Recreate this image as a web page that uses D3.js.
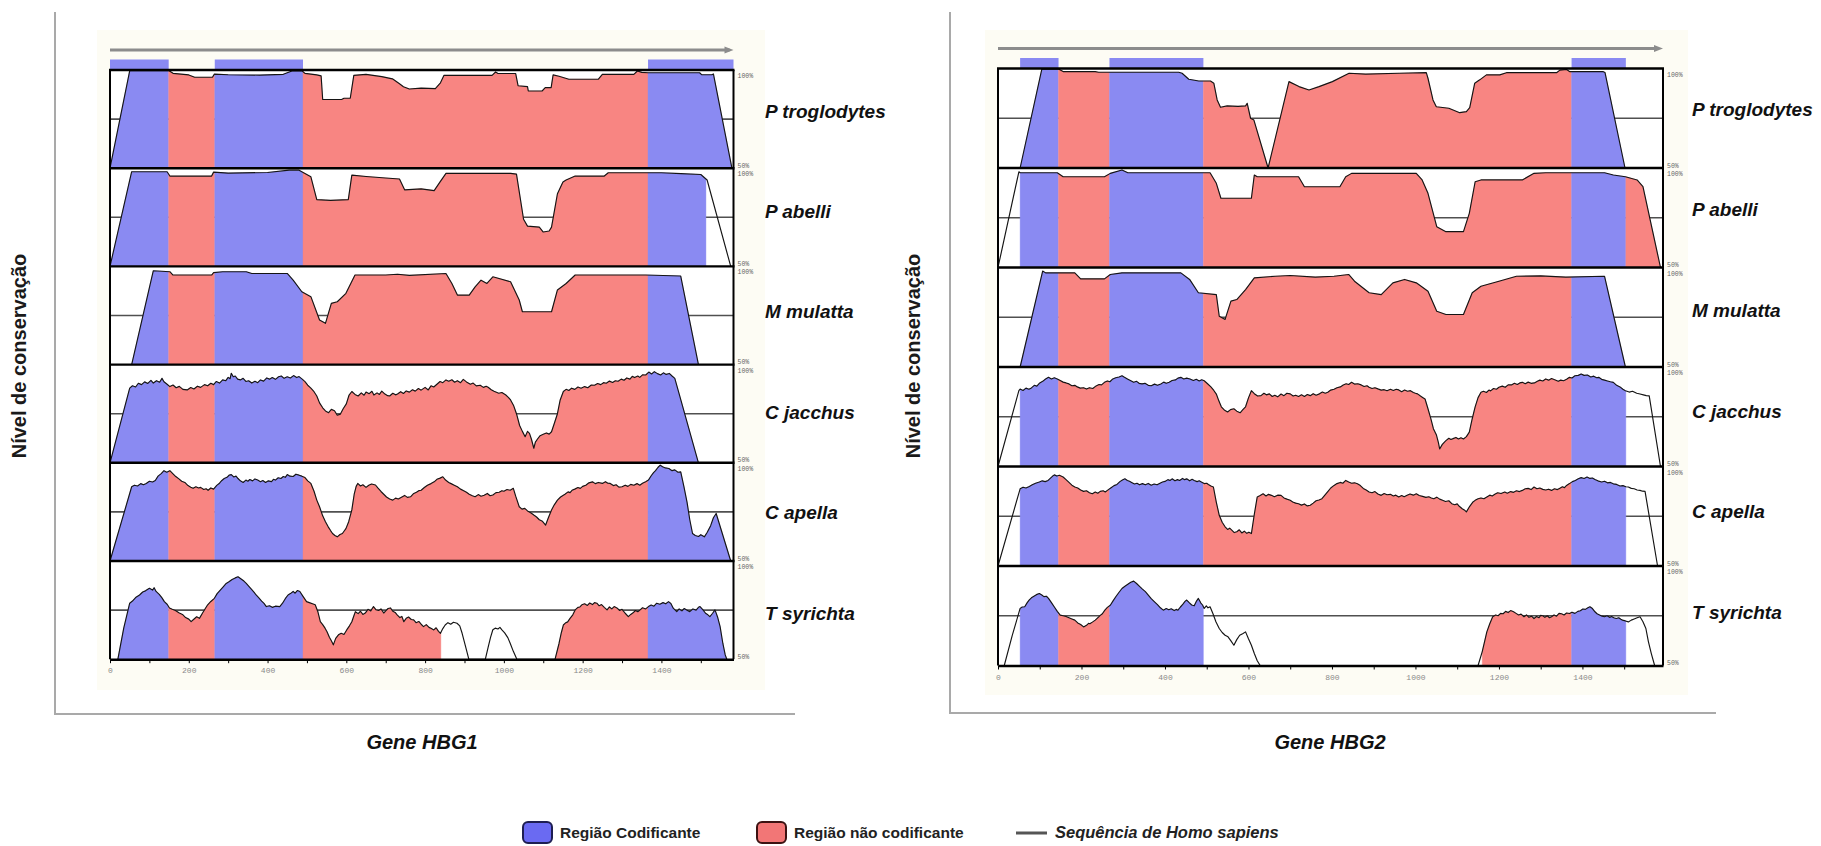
<!DOCTYPE html>
<html>
<head>
<meta charset="utf-8">
<script src="https://cdn.jsdelivr.net/npm/d3@7"></script>
<style>
  body { margin: 0; background: #fff; }
  svg { display: block; }
</style>
</head>
<body>
<script>
// ---------------------------------------------------------------------------
// Conservation profiles (VISTA-style) of HBG1 and HBG2 against Homo sapiens.
// Each profile is a list of [position (bp), conservation (%)] points.
// ---------------------------------------------------------------------------
const species = ["P troglodytes", "P abelli", "M mulatta", "C jacchus", "C apella", "T syrichta"];

const hbg1Length = 1583;
const hbg2Length = 1593;

// coding exons (blue bars on top of each panel)
const hbg1Exons = [[0, 149], [266, 490], [1366, 1583]];
const hbg2Exons = [[53, 145], [267, 492], [1374, 1504]];

const tickValues = [0, 100, 200, 300, 400, 500, 600, 700, 800, 900, 1000, 1100, 1200, 1300, 1400, 1500];
const tickLabels = [0, 200, 400, 600, 800, 1000, 1200, 1400];

// --- HBG1 ---
const hbg1PTroglodytes = [[0,50],[50,99.6],[150,99.6],[160,98.3],[200,97.5],[215,96.3],[260,96.3],[265,97.9],[300,97.6],[380,97.4],[440,97.8],[462,99.5],[488,99.5],[495,98.3],[525,97.5],[536,97],[540,85],[588,85],[594,85.6],[610,85.6],[619,97.3],[650,97.8],[690,96.6],[717,95.5],[735,93],[745,91.5],[760,90.3],[790,90.8],[826,90.5],[839,93.5],[848,97.3],[970,97.3],[979,99],[985,98.2],[1030,98.2],[1036,92],[1060,91.5],[1062,89.3],[1097,89.3],[1105,91],[1120,91],[1125,97.5],[1140,96.8],[1165,95.3],[1240,95.3],[1250,97.8],[1330,97.8],[1339,99.5],[1350,98.8],[1366,98.6],[1497,98.6],[1502,97.6],[1528,97.6],[1532,98],[1579,50]];
const hbg1PAbelli = [[0,50],[55,98.2],[145,98.2],[152,96],[258,96],[263,98],[300,97.5],[400,97.8],[455,99],[480,99],[495,97.3],[510,95.6],[525,84],[560,83.6],[605,84],[614,96.5],[650,95.8],[700,95],[735,94.5],[748,89],[790,89.5],[823,88.6],[838,93],[853,97.4],[1017,97.4],[1032,97],[1050,74],[1060,70.5],[1090,70],[1100,67.5],[1115,68],[1121,70],[1136,87],[1150,93],[1158,94],[1181,96],[1255,96],[1265,97.7],[1400,97.7],[1450,97.2],[1500,96.8],[1516,94],[1576,50]];
const hbg1MMulatta = [[55,50],[110,97.8],[152,97.3],[160,95.6],[258,95.6],[263,96.8],[286,97.3],[346,97.3],[360,96.4],[450,96.4],[465,93],[487,87.1],[510,84.6],[532,72.7],[547,71],[562,81.2],[577,82],[599,86.3],[622,95.6],[700,95.6],[730,96],[760,95.4],[853,96.4],[868,91.3],[882,85.4],[912,85.4],[927,89.6],[942,93],[957,91.3],[972,94.7],[1017,92.2],[1039,82.9],[1047,76.9],[1121,76.9],[1136,88],[1158,91.3],[1181,95.6],[1360,95.6],[1449,95.1],[1494,50]];
const hbg1CJacchus = [[0,50],[50,88],[57,89.2],[65,88.6],[72,90.5],[80,89.8],[88,91.2],[96,90.4],[104,92],[110,90.6],[118,91.8],[126,91],[132,93],[137,91.3],[145,90],[152,88.8],[160,89.6],[168,88.2],[176,88.9],[185,87.4],[196,87.1],[205,88.3],[213,87.6],[222,89],[230,88.4],[240,89.8],[248,89.2],[256,90.5],[263,89.8],[270,91.4],[278,90.6],[286,92.2],[294,91.8],[300,93.5],[305,92.8],[308,95.6],[313,93.8],[318,94.2],[324,92.6],[331,92.2],[338,93],[345,91.4],[352,91.8],[360,90.6],[368,91.5],[375,90.8],[382,92.2],[390,91.6],[398,93.2],[405,92.6],[412,93.4],[420,92.5],[428,93.8],[435,94.2],[442,93],[450,93.8],[458,93.2],[466,94.4],[474,93.4],[480,93.9],[488,92.6],[495,91.3],[502,89.5],[510,88],[518,86.2],[525,84],[532,80.5],[540,78],[547,76.4],[555,75.5],[562,77.2],[570,76.5],[577,74.2],[585,74.8],[592,77.5],[600,80],[607,84.5],[614,86.3],[622,84.8],[630,84],[638,85.6],[645,84.4],[650,86],[658,85.2],[665,86.4],[670,84.5],[678,85.6],[684,84.8],[690,86.5],[698,85],[705,84.2],[710,84],[718,85.4],[725,84.6],[730,85],[738,86.2],[745,85.3],[752,86.6],[760,86],[768,87.2],[775,86.5],[783,87.8],[790,87],[800,88.4],[808,87.1],[815,89.2],[822,88.6],[830,90],[838,91.4],[845,90.8],[853,92.2],[860,91.5],[868,92.3],[875,91],[882,91.8],[890,90.8],[897,92.5],[905,91.2],[915,90],[922,90.6],[930,89.2],[940,89.5],[948,88.4],[955,89],[960,88.5],[968,87.2],[975,86.4],[987,85.4],[995,85.8],[1005,84.5],[1012,83.2],[1017,82],[1025,79],[1032,75],[1040,69],[1047,66],[1054,63.3],[1060,66],[1065,65],[1070,62],[1076,57.4],[1080,60.5],[1085,62],[1092,63.8],[1100,64.5],[1108,65.2],[1115,64.6],[1121,65.8],[1128,70],[1136,75],[1143,82],[1151,86.3],[1158,87.4],[1165,86.8],[1172,88],[1180,87.4],[1188,88.6],[1196,88],[1205,88.8],[1213,88.2],[1222,89.6],[1230,89.5],[1238,90.4],[1246,89.8],[1253,90.8],[1260,90.5],[1268,91.6],[1276,90.9],[1283,91.8],[1290,91.5],[1298,92.6],[1305,92],[1312,93.2],[1320,92.6],[1326,94],[1332,93.4],[1340,94.2],[1345,93.5],[1352,94.8],[1360,94.7],[1368,96.2],[1375,95.2],[1382,96.4],[1390,95.4],[1398,94.7],[1405,95.8],[1412,95],[1420,95.5],[1427,94.2],[1434,93],[1494,50]];
const hbg1CApella = [[0,50],[55,87.8],[62,88.6],[70,88.2],[78,89.4],[85,88.8],[92,89.5],[100,90.6],[108,90.2],[115,91],[122,93.2],[130,94.5],[137,96],[144,95.2],[152,96],[160,94.4],[167,93],[175,91.8],[182,90.6],[190,90],[198,88.4],[205,87.6],[211,87],[218,87.8],[225,87.2],[230,87.5],[238,86.4],[244,86.8],[249,86],[256,87.2],[263,86.6],[271,88.5],[278,89.6],[284,91],[290,92],[297,92.6],[303,93.8],[308,94],[314,92.8],[320,93.2],[325,92],[331,90.8],[338,90],[345,91.2],[350,90.6],[355,91.5],[362,90.8],[368,91.8],[375,91.2],[382,90.4],[388,91],[395,90],[402,90.8],[410,90.4],[415,91.6],[420,91.2],[427,92.4],[434,92],[440,93],[445,92.6],[450,94],[457,93.2],[465,93],[472,94.2],[480,93.7],[487,93.2],[495,92.5],[502,90.8],[510,89.5],[518,85.5],[525,81],[532,77.6],[540,73],[547,70],[554,67.4],[560,65.5],[565,64],[571,63],[577,62.3],[584,63.5],[590,64],[595,65.4],[599,66.5],[606,70],[614,76],[620,84],[625,88],[629,89.5],[636,88.2],[642,88.8],[650,87.5],[657,88.6],[664,89.2],[674,88.7],[680,87.2],[688,85.4],[695,84],[702,82.6],[710,81.6],[718,81],[725,82],[732,81.6],[740,82.5],[748,83.4],[755,82.4],[763,82.7],[770,84.2],[778,85],[784,85.8],[790,86],[798,87.4],[806,88.6],[815,89.4],[823,90.3],[830,91.6],[838,92.2],[845,92.9],[852,91.2],[860,90],[866,89.4],[874,88.6],[882,87.8],[890,86.6],[898,85.8],[905,85],[912,84],[920,83.2],[927,82.7],[935,83.8],[942,83],[950,83.5],[958,84.4],[965,83.2],[972,83.6],[980,84.8],[988,85],[995,85.8],[1000,85.5],[1008,86.4],[1016,86],[1024,87],[1030,83],[1039,77.6],[1046,76.4],[1053,76.8],[1060,75.5],[1068,74.6],[1076,73.4],[1083,72.4],[1090,71],[1098,70.2],[1106,68.3],[1113,72],[1121,76],[1128,78.6],[1136,81],[1144,82.6],[1150,83.4],[1155,84],[1163,85.2],[1168,84.8],[1173,86],[1180,86.6],[1188,87.4],[1194,87],[1200,88],[1208,88.6],[1216,89.8],[1225,90.3],[1232,89.4],[1240,90],[1250,89.5],[1258,90.4],[1264,89.6],[1270,89.5],[1278,88.4],[1285,88.8],[1292,87.6],[1300,87.8],[1308,88.6],[1315,88],[1322,89],[1330,88.6],[1338,89.4],[1345,88.6],[1352,89.6],[1360,90.4],[1367,91.2],[1374,93.4],[1380,95],[1385,96],[1391,97.6],[1397,98.8],[1403,98],[1410,97.4],[1419,97.1],[1427,96],[1434,96.4],[1442,95.2],[1449,95.4],[1457,88],[1465,80],[1472,71],[1479,64],[1486,63],[1494,62.5],[1500,63.4],[1509,62.3],[1516,64.5],[1525,68],[1532,72],[1539,74.2],[1576,50]];
const hbg1TSyrichta = [[20,50],[35,66],[50,78.5],[57,79.6],[65,81.4],[75,82.7],[83,84.2],[90,84.8],[100,86.1],[108,85.2],[112,86.4],[117,84.5],[125,83],[132,81.2],[138,79.3],[145,78],[151,76.1],[158,75.4],[166,74.8],[176,73.5],[184,72.8],[192,71.2],[200,70.4],[206,69.1],[212,70.2],[220,71.6],[227,70.8],[235,73.5],[242,75.8],[248,77.7],[256,79.4],[265,81],[272,83.4],[280,85.2],[288,87],[295,88.6],[302,89.4],[310,90.6],[318,91.4],[325,92],[332,91],[340,89.8],[346,88.6],[352,87.2],[360,85.4],[366,84],[371,82.7],[378,81.2],[385,79.6],[391,78.4],[397,76.8],[405,77.2],[412,76.4],[420,77],[431,76.8],[438,78.5],[445,80.8],[452,82.7],[458,83.4],[465,84.5],[470,83.6],[476,85],[482,84.5],[490,82],[499,79.3],[506,78.8],[514,78.2],[521,77.7],[528,74],[534,69.1],[540,67.6],[546,65.8],[551,64],[557,61.2],[562,59.4],[567,57.3],[573,60.6],[580,62.4],[587,63.2],[594,62.6],[601,64.9],[608,67],[614,69.1],[619,72],[623,74.2],[630,73.2],[636,74.4],[642,72.8],[648,73.5],[655,75.4],[662,74.6],[669,76.8],[675,75.2],[682,74.8],[688,75.6],[695,73.5],[700,74.6],[706,75.8],[712,76.1],[718,74.4],[724,73.8],[729,72.6],[736,71.2],[741,71.8],[746,69.1],[752,70.8],[758,71.5],[765,70.2],[771,70],[777,68.6],[784,69.2],[790,67.8],[796,66.6],[803,67.6],[810,66.2],[816,65.6],[822,64.9],[828,66],[834,64.2],[839,63.2],[845,65.6],[851,67.4],[858,68.6],[865,67.8],[872,68.8],[881,68.3],[888,67],[894,63.2],[902,57],[911,50],[953,50],[960,56],[966,61],[972,65],[978,65.8],[985,65.4],[990,66.2],[995,64.9],[1002,63.4],[1010,61],[1016,58.1],[1024,54],[1033,50],[1130,50],[1140,58],[1146,63.6],[1151,67.4],[1156,68.4],[1162,69],[1168,70.8],[1175,72.6],[1181,75.1],[1188,76.4],[1193,76.6],[1198,77.7],[1205,78.2],[1212,77.4],[1218,78.6],[1225,77.8],[1230,78.8],[1236,78.5],[1242,77.2],[1248,77.8],[1255,76.4],[1262,75.1],[1268,76.6],[1274,75.6],[1280,76.8],[1287,76.1],[1294,74.8],[1300,75.4],[1308,73.4],[1316,71.7],[1322,72.8],[1328,73.6],[1334,74.8],[1340,74.2],[1346,75.1],[1352,76.2],[1360,75.6],[1367,76.8],[1374,77.6],[1381,77],[1388,78.5],[1396,78],[1404,78.8],[1411,78.2],[1418,79.3],[1424,78.4],[1430,76],[1439,74.2],[1445,75.6],[1452,74.6],[1458,75.8],[1464,75.1],[1472,74.2],[1480,75.6],[1488,75],[1494,76.4],[1498,76.8],[1505,75.2],[1512,73.4],[1518,72.6],[1523,71.7],[1530,73.4],[1536,75.1],[1543,71.2],[1549,66.6],[1556,58],[1562,52.2],[1566,50]];

// --- HBG2 ---
const hbg2PTroglodytes = [[53,50],[105,99.7],[145,99.7],[157,98.4],[233,98.4],[241,98.1],[433,98.1],[441,97.6],[457,94.6],[481,93.7],[509,93.7],[517,92.6],[525,84.2],[533,80.5],[549,81.2],[575,81],[593,81.2],[597,82.5],[605,75],[613,74.1],[647,50],[697,93.4],[721,90.9],[745,89.2],[769,90.9],[801,93.4],[841,97.6],[881,97.2],[961,97.6],[1026,97.9],[1030,95.1],[1042,84.2],[1050,80.8],[1080,80],[1106,77.8],[1122,78.3],[1130,80.3],[1142,92.6],[1154,94.3],[1170,96.8],[1202,96.8],[1218,97.9],[1338,97.9],[1346,99.2],[1362,99.5],[1370,98.4],[1450,98.4],[1454,98],[1502,50]];
const hbg2PAbelli = [[0,50],[50,98.1],[53,97.6],[142,97.6],[156,95.6],[255,95.6],[269,97.3],[297,99],[311,97.6],[508,97.6],[523,92.3],[534,84.8],[607,84.8],[614,96.5],[621,95.6],[720,95.6],[734,90.6],[819,90.6],[833,95.6],[847,97.3],[1002,97.3],[1016,94],[1030,87.3],[1051,70.5],[1073,68],[1115,68],[1129,77.2],[1143,93.1],[1157,94],[1256,94],[1284,97.3],[1312,97.6],[1453,97.6],[1474,96.5],[1503,95.6],[1531,94],[1545,90.6],[1587,50]];
const hbg2MMulatta = [[53,50],[107,98.2],[114,97.3],[184,97.3],[198,94.3],[255,94.3],[269,96.5],[297,97.3],[438,97.3],[459,94],[480,87.3],[523,86.4],[530,75.5],[544,73.9],[558,83.1],[572,83.9],[593,88.9],[614,94.8],[664,95.6],[700,96],[760,95.2],[805,95.6],[840,96.5],[854,93.1],[889,87.3],[918,86.4],[946,92.3],[974,94],[1002,92.3],[1030,88.1],[1051,78],[1073,76.4],[1115,76.4],[1136,87.3],[1157,90.6],[1200,93.1],[1242,95.6],[1300,95.8],[1360,95.2],[1453,95.6],[1503,50]];
const hbg2CJacchus = [[0,50],[50,88.1],[53,88.9],[60,88.2],[67,89.4],[74,88.8],[80,89.5],[87,90.8],[93,90.4],[100,92],[107,92.8],[114,94],[121,94.8],[128,94],[135,94.6],[142,94],[149,93.2],[156,92.4],[163,92],[170,91.5],[177,90.6],[184,90.8],[190,90],[197,89.4],[205,89.6],[212,88.9],[219,89.6],[227,89.2],[235,90.5],[242,91.2],[248,91],[255,92.3],[262,93],[268,92.6],[275,94],[282,94.6],[290,95],[297,95.6],[303,94.8],[310,94],[317,93.2],[325,92.3],[332,92.8],[338,91.8],[345,91.5],[352,91.8],[360,90.8],[367,90.6],[375,91.4],[382,90.8],[390,91.5],[397,92.4],[403,91.8],[410,92.3],[417,93.2],[425,93.5],[431,94.4],[438,94.8],[445,94],[452,94.4],[460,94],[468,93.2],[475,93.8],[482,93],[488,93.6],[494,93.1],[502,91.6],[510,90],[517,88.2],[523,86.4],[529,83],[535,80],[542,78.4],[550,77.4],[557,78.6],[565,79],[572,77.8],[580,77],[586,78.4],[593,80],[600,84.5],[607,88.1],[614,86.6],[622,85.4],[630,85.6],[637,86.8],[643,86],[650,86.5],[657,85.2],[663,85.8],[670,85],[678,86.4],[685,85.6],[692,86.8],[700,86.5],[707,85.4],[713,85.8],[720,85.2],[727,86],[734,85.2],[741,86.2],[748,85.6],[755,86.6],[762,85.8],[770,86.5],[777,87.4],[784,86.8],[790,87.3],[797,88.4],[805,88.8],[812,89.6],[820,90],[827,91],[834,91.6],[840,91.2],[847,92.3],[854,91.4],[862,91.6],[870,91],[877,90.2],[884,90.6],[889,89.8],[896,89.2],[903,89.6],[910,89],[918,88.4],[925,88.6],[932,88.1],[940,88.8],[947,88.2],[954,88.8],[960,88.5],[967,87.6],[974,88.4],[981,87.8],[988,88.1],[995,87.2],[1000,86.8],[1005,86.5],[1012,85.4],[1018,84.6],[1023,83.9],[1030,79],[1037,73.9],[1043,69],[1050,66],[1055,62],[1058,58.8],[1064,61],[1070,62.4],[1073,63],[1080,64.2],[1085,63.6],[1090,64],[1097,64.6],[1103,63.8],[1109,64.4],[1115,63.8],[1122,65],[1129,67.3],[1136,74],[1143,80],[1150,84.6],[1157,87.3],[1163,87.8],[1170,87.2],[1176,88.4],[1180,88],[1187,89.2],[1194,88.8],[1200,89.8],[1208,90.4],[1215,89.8],[1222,91],[1230,91],[1237,91.8],[1244,91.2],[1250,92],[1256,92.3],[1263,91.6],[1270,92.4],[1277,91.8],[1285,92],[1292,92.8],[1298,93.4],[1305,93],[1312,94],[1319,93.4],[1326,94.2],[1335,93.5],[1342,92.8],[1348,93.4],[1355,93.1],[1362,93.8],[1369,94.8],[1375,94.5],[1382,95.6],[1390,95.8],[1397,96.5],[1404,95.8],[1412,96],[1420,95],[1427,95.4],[1434,94.6],[1439,94.8],[1446,93.8],[1453,93.4],[1460,93],[1467,92.6],[1474,92.3],[1482,90.8],[1490,90],[1497,88.8],[1503,88.1],[1512,87.4],[1520,87.8],[1530,86.8],[1538,86.4],[1546,86],[1553,85.6],[1560,85.5],[1587,50]];
const hbg2CApella = [[0,50],[53,88.8],[60,89.6],[67,89.2],[75,90],[82,90.8],[90,91.6],[99,92.2],[106,92.8],[113,92.4],[120,93],[127,94.4],[131,95.2],[135,95.8],[141,95.2],[147,95.6],[156,94.7],[163,93.4],[170,92],[177,90.6],[184,89.7],[191,89.2],[198,88.2],[205,87.5],[212,87.8],[219,86.8],[226,86.3],[233,87.2],[239,86.6],[245,87.5],[252,87.8],[257,87.2],[262,88],[270,89.2],[278,90.4],[285,91],[292,92.4],[298,93.2],[304,93.8],[310,93],[315,92.6],[320,92],[327,91.2],[333,91.6],[339,90.8],[346,91.4],[353,90.8],[360,91.5],[367,90.6],[374,91.2],[381,90.8],[388,91.6],[394,92.2],[400,92.5],[407,93.4],[412,93],[417,93.8],[424,92.8],[430,93.4],[435,93],[442,94],[447,93.4],[452,93.8],[459,92.8],[465,93.6],[470,93],[477,92.4],[482,92.8],[487,92.2],[494,91.4],[500,91.6],[504,91],[510,90.2],[516,89.7],[523,82],[530,75.5],[537,72],[544,69.7],[550,68.4],[555,69],[560,68],[566,66.8],[572,67.2],[578,68.2],[584,66.6],[590,67.5],[596,66.4],[601,67],[607,66.3],[614,76],[621,84.7],[628,85.4],[635,86.3],[642,85.2],[648,86],[655,85.5],[662,84.8],[670,85.6],[678,85.5],[685,84.2],[692,83.6],[700,83],[706,82.2],[713,81.6],[720,81.3],[727,80.6],[734,81.2],[741,80.2],[748,80.5],[755,81.6],[762,82.8],[769,83.2],[776,83.8],[783,85.6],[790,87.4],[797,89.2],[805,90.5],[812,91.4],[820,92],[826,91.6],[833,93],[840,92.2],[847,91.6],[854,91.8],[861,91.3],[868,90.4],[875,89],[882,88.2],[889,87.2],[896,86.8],[903,87.4],[910,86.2],[918,85.5],[925,86.4],[932,85.8],[940,86],[947,85.2],[953,85.6],[960,84.7],[967,85.4],[973,84.8],[980,85.5],[987,86.2],[995,85.6],[1002,86.3],[1009,85.4],[1017,85],[1025,84.5],[1032,84.8],[1038,84.2],[1044,83.8],[1051,84.6],[1058,83.6],[1065,83],[1072,82.4],[1080,82.8],[1087,81.3],[1094,80.8],[1100,81.2],[1105,80],[1112,78.8],[1117,78.2],[1122,77.2],[1130,80],[1137,82],[1143,83],[1150,83.8],[1157,84.2],[1164,83.8],[1171,84.7],[1178,85.6],[1184,85.2],[1190,86],[1197,86.8],[1205,86.4],[1214,87.2],[1220,86.6],[1228,87.4],[1235,87],[1242,87.8],[1249,87.4],[1256,88],[1263,88.8],[1270,89],[1277,88.4],[1284,89.7],[1291,88.8],[1298,89.2],[1305,88.5],[1312,88.2],[1319,88.6],[1326,88],[1333,88.8],[1340,88.4],[1345,89],[1352,89.8],[1357,89.4],[1362,90.5],[1369,91.4],[1376,92.4],[1383,93],[1390,93.8],[1397,94.4],[1404,94],[1411,94.7],[1418,94],[1424,94.2],[1430,93.5],[1437,92.8],[1446,92.2],[1453,92.6],[1460,91.8],[1467,92],[1474,91.3],[1482,91],[1490,90.2],[1497,90.4],[1504,89.8],[1510,89.7],[1517,89],[1524,88.8],[1531,88.2],[1538,88],[1544,87.6],[1550,87.5],[1580,50]];
const hbg2TSyrichta = [[15,50],[34,65],[53,78.7],[58,79.4],[64,79.5],[70,81.6],[75,83],[80,84],[86,84.8],[92,85.6],[99,86.2],[105,85.4],[110,84.6],[116,84.8],[121,83.7],[128,81.6],[135,79.4],[142,77.2],[149,75.3],[156,75],[163,74.6],[170,74],[177,73.4],[184,72.8],[191,71.4],[198,70.6],[205,69.4],[212,70.2],[217,71.2],[220,71],[226,71.8],[233,72.8],[240,74.2],[245,75.2],[250,76],[256,77.8],[262,79.2],[269,80.3],[276,82.6],[283,84.8],[290,86.8],[297,88.7],[304,89.8],[311,90.8],[318,91.8],[325,92.4],[332,91.2],[339,89.8],[346,88.4],[353,87.1],[360,85.4],[367,83.6],[375,82],[382,80.6],[389,79],[396,77.8],[403,78.6],[409,78],[415,78.5],[422,77.6],[427,78.2],[431,77.8],[437,79.4],[443,80.8],[448,82.2],[452,82.9],[458,81.6],[464,80.4],[470,80],[475,82.2],[480,83.7],[486,81.4],[490,80.4],[494,78.7],[499,80],[503,79],[508,79.5],[515,76],[522,72],[530,68.6],[537,66.6],[544,65.2],[551,64.4],[558,62.4],[565,60.2],[572,63],[579,65.2],[586,66],[593,66.9],[600,63.4],[607,60.2],[614,56],[621,52.4],[628,50],[1150,50],[1160,57],[1166,62.4],[1171,66.9],[1178,71],[1185,74.5],[1192,75.4],[1198,75],[1204,76.2],[1210,76],[1216,77.2],[1222,76.6],[1228,77.6],[1235,77],[1241,76.2],[1247,75.4],[1253,75.8],[1260,74.5],[1266,75.4],[1272,74.2],[1278,74.8],[1284,73.6],[1290,74.6],[1296,74],[1300,75.2],[1305,75],[1310,74.2],[1316,75],[1321,74],[1326,74.5],[1332,75.4],[1338,74.8],[1344,76.2],[1350,76],[1356,75.4],[1362,76.4],[1369,76.1],[1375,76.8],[1382,76.2],[1389,77.2],[1395,77.5],[1401,78.4],[1407,78.2],[1413,79],[1418,79.5],[1424,78.6],[1430,77],[1435,76],[1441,75.4],[1447,74.8],[1453,74.5],[1459,75],[1465,74.2],[1470,74.6],[1475,74],[1481,73.6],[1487,74],[1492,73.2],[1496,72.8],[1503,72.4],[1510,71.9],[1517,72.8],[1524,73.4],[1531,74],[1538,74.5],[1545,72],[1552,68.6],[1558,62],[1565,56],[1573,50]];

// spans (bp) where the profile is shaded as a conserved region
const hbg1Shaded = [[[0,1583]], [[0,1513]], [[0,1583]], [[0,1583]], [[0,1583]], [[0,840],[1130,1583]]];
const hbg2Shaded = [[[53,1593]], [[53,1593]], [[53,1593]], [[53,1504]], [[53,1504]], [[53,492],[1160,1504]]];

const hbg1Profiles = [hbg1PTroglodytes, hbg1PAbelli, hbg1MMulatta, hbg1CJacchus, hbg1CApella, hbg1TSyrichta];
const hbg2Profiles = [hbg2PTroglodytes, hbg2PAbelli, hbg2MMulatta, hbg2CJacchus, hbg2CApella, hbg2TSyrichta];

// ---------------------------------------------------------------------------
const W = 1821, H = 846;
const SANS = "'Liberation Sans', Arial, Helvetica, sans-serif";
const MONO = "'Liberation Mono', 'DejaVu Sans Mono', monospace";
const BLUE = "#8a8af2", PINK = "#f88582";

const panels = [
  { gene: "HBG1", length: hbg1Length, exons: hbg1Exons, profiles: hbg1Profiles, shaded: hbg1Shaded,
    x0: 110, x1: 733.5, top: 70, trackH: 98.2,
    frameX: 55, frameTop: 12, frameY: 714, frameRight: 795,
    arrowY: 50, barH: 10.5, labelX: 765, labelShift: [-8, 2.2],
    titleX: 422, ylabX: 26, bg: [97, 30, 765, 690] },
  { gene: "HBG2", length: hbg2Length, exons: hbg2Exons, profiles: hbg2Profiles, shaded: hbg2Shaded,
    x0: 998, x1: 1663, top: 68.5, trackH: 99.5,
    frameX: 950, frameTop: 12, frameY: 713, frameRight: 1716,
    arrowY: 48.5, barH: 10.5, labelX: 1692, labelShift: [-9, 1.1],
    titleX: 1330, ylabX: 920, bg: [985, 30, 1688, 695] }
];

const svg = d3.select("body").append("svg")
  .attr("width", W).attr("height", H)
  .attr("viewBox", `0 0 ${W} ${H}`);

svg.append("rect").attr("width", W).attr("height", H).attr("fill", "#fff");

// linear interpolation of a profile at position v
function valueAt(pts, v) {
  for (let i = 0; i < pts.length - 1; i++) {
    const a = pts[i], b = pts[i + 1];
    if (v >= a[0] && v <= b[0]) {
      if (b[0] === a[0]) return a[1];
      return a[1] + (b[1] - a[1]) * (v - a[0]) / (b[0] - a[0]);
    }
  }
  return null;
}

// part of a profile between positions lo and hi
function sliceProfile(pts, lo, hi) {
  const a = Math.max(lo, pts[0][0]);
  const b = Math.min(hi, pts[pts.length - 1][0]);
  if (b <= a) return [];
  const out = [[a, valueAt(pts, a)]];
  pts.forEach(p => { if (p[0] > a && p[0] < b) out.push(p); });
  out.push([b, valueAt(pts, b)]);
  return out;
}

panels.forEach(p => {
  const g = svg.append("g");
  const x = d3.scaleLinear().domain([0, p.length]).range([p.x0, p.x1]);

  // light paper tone behind the plot
  g.append("rect")
    .attr("x", p.bg[0]).attr("y", p.bg[1])
    .attr("width", p.bg[2] - p.bg[0]).attr("height", p.bg[3] - p.bg[1])
    .attr("fill", "#fdfcf4");

  // outer L-shaped frame
  g.append("path")
    .attr("d", `M${p.frameX},${p.frameTop}V${p.frameY}H${p.frameRight}`)
    .attr("fill", "none").attr("stroke", "#a9a9a9").attr("stroke-width", 2);

  // Homo sapiens sequence arrow
  g.append("line")
    .attr("x1", x(0)).attr("x2", x(p.length) - 4)
    .attr("y1", p.arrowY).attr("y2", p.arrowY)
    .attr("stroke", "#8c8c8c").attr("stroke-width", 2.8);
  g.append("path")
    .attr("d", `M${x(p.length)},${p.arrowY}l-9,-3.5v7z`)
    .attr("fill", "#8c8c8c");

  // exon bars
  g.selectAll(".exon").data(p.exons).enter().append("rect")
    .attr("x", d => x(d[0])).attr("width", d => x(d[1]) - x(d[0]))
    .attr("y", p.top - p.barH).attr("height", p.barH)
    .attr("fill", BLUE);

  const inExon = v => p.exons.some(e => v >= e[0] && v <= e[1]);

  species.forEach((name, i) => {
    const t = p.top + i * p.trackH, b = t + p.trackH;
    const y = d3.scaleLinear().domain([50, 100]).range([b, t]);
    const prof = p.profiles[i];
    const tg = g.append("g");

    tg.append("rect")
      .attr("x", p.x0).attr("y", t).attr("width", p.x1 - p.x0).attr("height", p.trackH)
      .attr("fill", "#fff");

    // 75% reference line
    tg.append("line")
      .attr("x1", p.x0).attr("x2", p.x1).attr("y1", y(75)).attr("y2", y(75))
      .attr("stroke", "#505050").attr("stroke-width", 1.6);

    // shaded conserved regions, split at exon boundaries
    const area = d3.area().x(d => x(d[0])).y0(y(50)).y1(d => y(d[1]));
    p.shaded[i].forEach(span => {
      const cuts = [span[0], span[1]];
      p.exons.forEach(e => e.forEach(c => { if (c > span[0] && c < span[1]) cuts.push(c); }));
      cuts.sort((m, n) => m - n);
      for (let k = 0; k < cuts.length - 1; k++) {
        const lo = cuts[k], hi = cuts[k + 1];
        const seg = sliceProfile(prof, lo, hi);
        if (!seg.length) continue;
        const col = inExon((lo + hi) / 2) ? BLUE : PINK;
        tg.append("path").datum(seg)
          .attr("d", area)
          .attr("fill", col).attr("stroke", col).attr("stroke-width", 0.4);
      }
    });

    // conservation curve
    tg.append("path").datum(prof)
      .attr("d", d3.line().x(d => x(d[0])).y(d => y(d[1])))
      .attr("fill", "none").attr("stroke", "#141414").attr("stroke-width", 1.15)
      .attr("stroke-linejoin", "round");

    // track borders
    tg.append("line").attr("x1", p.x0 - 1).attr("x2", p.x1 + 1).attr("y1", t).attr("y2", t)
      .attr("stroke", "#000").attr("stroke-width", 2.4);
    tg.append("line").attr("x1", p.x0).attr("x2", p.x0).attr("y1", t).attr("y2", b)
      .attr("stroke", "#000").attr("stroke-width", 2);
    tg.append("line").attr("x1", p.x1).attr("x2", p.x1).attr("y1", t).attr("y2", b)
      .attr("stroke", "#000").attr("stroke-width", 2);

    // percentage marks
    tg.append("text").attr("x", p.x1 + 4).attr("y", t + 8)
      .attr("font-family", MONO).attr("font-size", 6.5).attr("fill", "#666").text("100%");
    tg.append("text").attr("x", p.x1 + 4).attr("y", b - 0.5)
      .attr("font-family", MONO).attr("font-size", 6.5).attr("fill", "#666").text("50%");

    // species name
    tg.append("text")
      .attr("x", p.labelX)
      .attr("y", (t + b) / 2 + p.labelShift[0] + p.labelShift[1] * i)
      .attr("dominant-baseline", "central")
      .attr("font-family", SANS).attr("font-weight", "bold").attr("font-style", "italic")
      .attr("font-size", 19).attr("fill", "#111")
      .text(name);
  });

  // position axis under the last track
  const axisY = p.top + species.length * p.trackH;
  const axis = g.append("g").attr("transform", `translate(0,${axisY})`)
    .call(d3.axisBottom(x).tickValues(tickValues).tickSize(4).tickSizeOuter(0)
      .tickFormat(d => tickLabels.includes(d) ? d : ""));
  axis.select(".domain").attr("stroke", "#000").attr("stroke-width", 2.4);
  axis.selectAll(".tick line").attr("stroke", "#000").attr("stroke-width", 1);
  axis.selectAll(".tick text")
    .attr("font-family", MONO).attr("font-size", 8).attr("fill", "#8a8a8a").attr("dy", "0.9em");

  // gene title
  g.append("text")
    .attr("x", p.titleX).attr("y", 749).attr("text-anchor", "middle")
    .attr("font-family", SANS).attr("font-weight", "bold").attr("font-style", "italic")
    .attr("font-size", 20).attr("fill", "#111")
    .text("Gene " + p.gene);

  // y axis title
  g.append("text")
    .attr("transform", `translate(${p.ylabX},356) rotate(-90)`)
    .attr("text-anchor", "middle")
    .attr("font-family", SANS).attr("font-weight", "bold")
    .attr("font-size", 20).attr("fill", "#1a1a1a")
    .text("Nível de conservação");
});

// legend
const legend = svg.append("g");
const legendItems = [
  { kind: "box", fill: "#6a6af2", stroke: "#1e1e52", x: 523, label: "Região Codificante" },
  { kind: "box", fill: "#f27676", stroke: "#3c1212", x: 757, label: "Região não codificante" },
  { kind: "line", stroke: "#555", x: 1016, label: "Sequência de Homo sapiens" }
];
legendItems.forEach(it => {
  if (it.kind === "box") {
    legend.append("rect").attr("x", it.x).attr("y", 822).attr("width", 29).attr("height", 21)
      .attr("rx", 5).attr("fill", it.fill).attr("stroke", it.stroke).attr("stroke-width", 2);
    legend.append("text").attr("x", it.x + 37).attr("y", 838)
      .attr("font-family", SANS).attr("font-weight", "bold").attr("font-size", 15.5)
      .attr("fill", "#222").text(it.label);
  } else {
    legend.append("line").attr("x1", it.x).attr("x2", it.x + 31).attr("y1", 833).attr("y2", 833)
      .attr("stroke", it.stroke).attr("stroke-width", 3);
    legend.append("text").attr("x", it.x + 39).attr("y", 838)
      .attr("font-family", SANS).attr("font-weight", "bold").attr("font-style", "italic")
      .attr("font-size", 16.5).attr("fill", "#222").text(it.label);
  }
});
</script>
</body>
</html>
